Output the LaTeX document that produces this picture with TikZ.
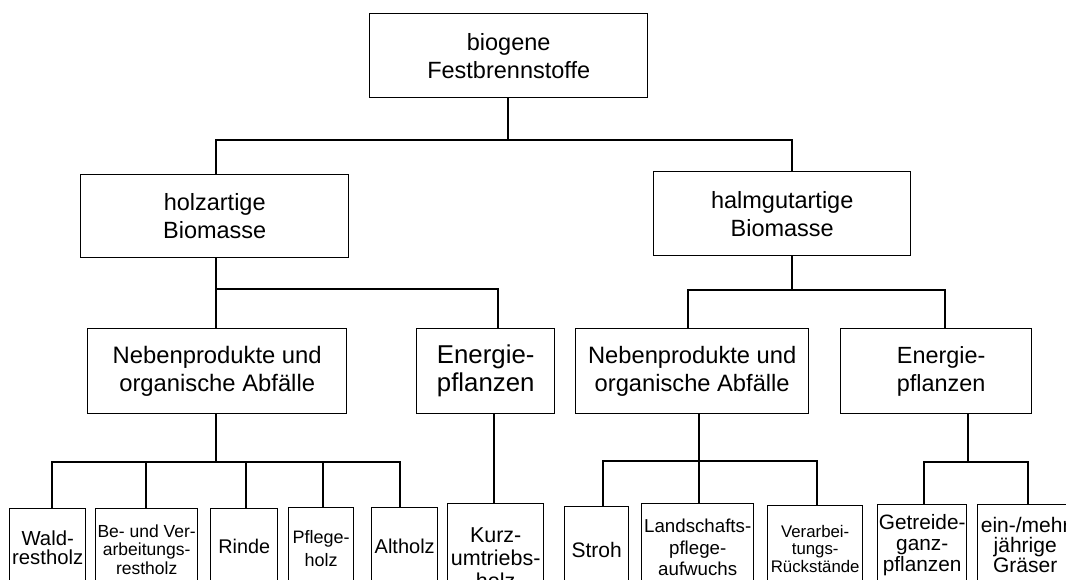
\documentclass[tikz,border=0pt]{standalone}
\usepackage{fontspec}
\setmainfont{Liberation Sans}
\newcommand{\fs}[2]{\fontsize{#1}{#2}\selectfont}
\begin{document}
\begin{tikzpicture}[x=1pt,y=-1pt,
  bx/.style={draw,line width=1.4pt,inner sep=0pt,align=center,anchor=north west},
  ln/.style={line width=1.4pt}]
\useasboundingbox (0,0) rectangle (1066,579);
\clip (0,0) rectangle (1066,579);
\fill[white] (0,0) rectangle (1066,579);
% level 0
\node[bx,minimum width=278pt,minimum height=84pt,font=\fs{23.5}{28}] (top) at (369,13) {biogene\\Festbrennstoffe};
% level 1
\node[bx,minimum width=268pt,minimum height=83pt,font=\fs{23.5}{28}] (holz) at (80,174) {holzartige\\Biomasse};
\node[bx,minimum width=257pt,minimum height=84pt,font=\fs{23.5}{28}] (halm) at (653,171) {halmgutartige\\Biomasse};
% level 2
\node[bx,minimum width=259pt,minimum height=85pt,font=\fs{23.8}{27.5}] (nebL) at (87,328) {Nebenprodukte und\\organische Abfälle};
\node[bx,minimum width=138pt,minimum height=85pt,font=\fs{25.8}{28}] (eneL) at (416,328) {Energie-\\pflanzen};
\node[bx,minimum width=233pt,minimum height=85pt,font=\fs{23.7}{27.5}] (nebR) at (575,328) {Nebenprodukte und\\organische Abfälle};
\node[bx,minimum width=191pt,minimum height=85pt,font=\fs{23.4}{27.5}] (eneR) at (840,328) {\hspace*{10pt}Energie-\\\hspace*{10pt}pflanzen};
% level 3
\node[bx,minimum width=76pt,minimum height=78pt,font=\fs{20.3}{18.5}] (wald) at (9,508) {Wald-\\restholz};
\node[bx,minimum width=102pt,minimum height=82pt,font=\fs{17.5}{18.5}] (bever) at (95,508) {Be- und Ver-\\arbeitungs-\\restholz};
\node[bx,minimum width=67pt,minimum height=76pt,font=\fs{19.8}{22}] (rinde) at (210,508) {Rinde};
\node[bx,minimum width=65pt,minimum height=82pt,font=\fs{18}{23}] (pflege) at (288,507) {Pflege-\\holz};
\node[bx,minimum width=66pt,minimum height=77pt,font=\fs{20}{22}] (alt) at (371,507) {Altholz};
\node[bx,minimum width=96pt,minimum height=108pt,font=\fs{21.5}{23}] (kurz) at (447,503) {Kurz-\\umtriebs-\\holz};
\node[bx,minimum width=64pt,minimum height=86pt,font=\fs{21}{22}] (stroh) at (564,506) {Stroh};
\node[bx,minimum width=112pt,minimum height=88pt,font=\fs{18.7}{21.5}] (land) at (641,503) {Landschafts-\\pflege-\\aufwuchs};
\node[bx,minimum width=95pt,minimum height=86pt,font=\fs{16.8}{17.5}] (verarb) at (767,505) {Verarbei-\\tungs-\\Rückstände};
\node[bx,minimum width=89pt,minimum height=80pt,font=\fs{20.8}{21}] (getr) at (877,504) {Getreide-\\ganz-\\pflanzen};
\node[bx,minimum width=95pt,minimum height=80pt,font=\fs{21}{20}] (gras) at (977,504) {ein-/mehr\\jährige\\Gräser};
% bus coordinates
\coordinate (a0) at (508,140);
\coordinate (a1) at (216,140);
\coordinate (a2) at (792,140);
\coordinate (h0) at (216,289);
\coordinate (h1) at (498,289);
\coordinate (g0) at (792,290);
\coordinate (g1) at (688,290);
\coordinate (g2) at (945,290);
\coordinate (n0) at (216,462);
\coordinate (n1) at (52,462);
\coordinate (n2) at (146,462);
\coordinate (n3) at (246,462);
\coordinate (n4) at (323,462);
\coordinate (n5) at (400,462);
\coordinate (e0) at (494,420);
\coordinate (r0) at (699,461);
\coordinate (r1) at (603,461);
\coordinate (r2) at (817,461);
\coordinate (s0) at (968,462);
\coordinate (s1) at (924,462);
\coordinate (s2) at (1028,462);
% connectors level 0-1
\draw[ln] (top.south -| a0) -- (a0);
\draw[ln] (holz.north -| a1) -- (a1) -- (a2) -- (halm.north -| a2);
% holz
\draw[ln] (holz.south -| h0) -- (nebL.north -| h0);
\draw[ln] (h0) -- (h1) -- (eneL.north -| h1);
% halm
\draw[ln] (halm.south -| g0) -- (g0);
\draw[ln] (nebR.north -| g1) -- (g1) -- (g2) -- (eneR.north -| g2);
% nebL
\draw[ln] (nebL.south -| n0) -- (n0);
\draw[ln] (wald.north -| n1) -- (n1) -- (n5) -- (alt.north -| n5);
\draw[ln] (n2) -- (bever.north -| n2);
\draw[ln] (n3) -- (rinde.north -| n3);
\draw[ln] (n4) -- (pflege.north -| n4);
% eneL
\draw[ln] (eneL.south -| e0) -- (kurz.north -| e0);
% nebR
\draw[ln] (nebR.south -| r0) -- (land.north -| r0);
\draw[ln] (stroh.north -| r1) -- (r1) -- (r2) -- (verarb.north -| r2);
% eneR
\draw[ln] (eneR.south -| s0) -- (s0);
\draw[ln] (getr.north -| s1) -- (s1) -- (s2) -- (gras.north -| s2);
\end{tikzpicture}
\end{document}
